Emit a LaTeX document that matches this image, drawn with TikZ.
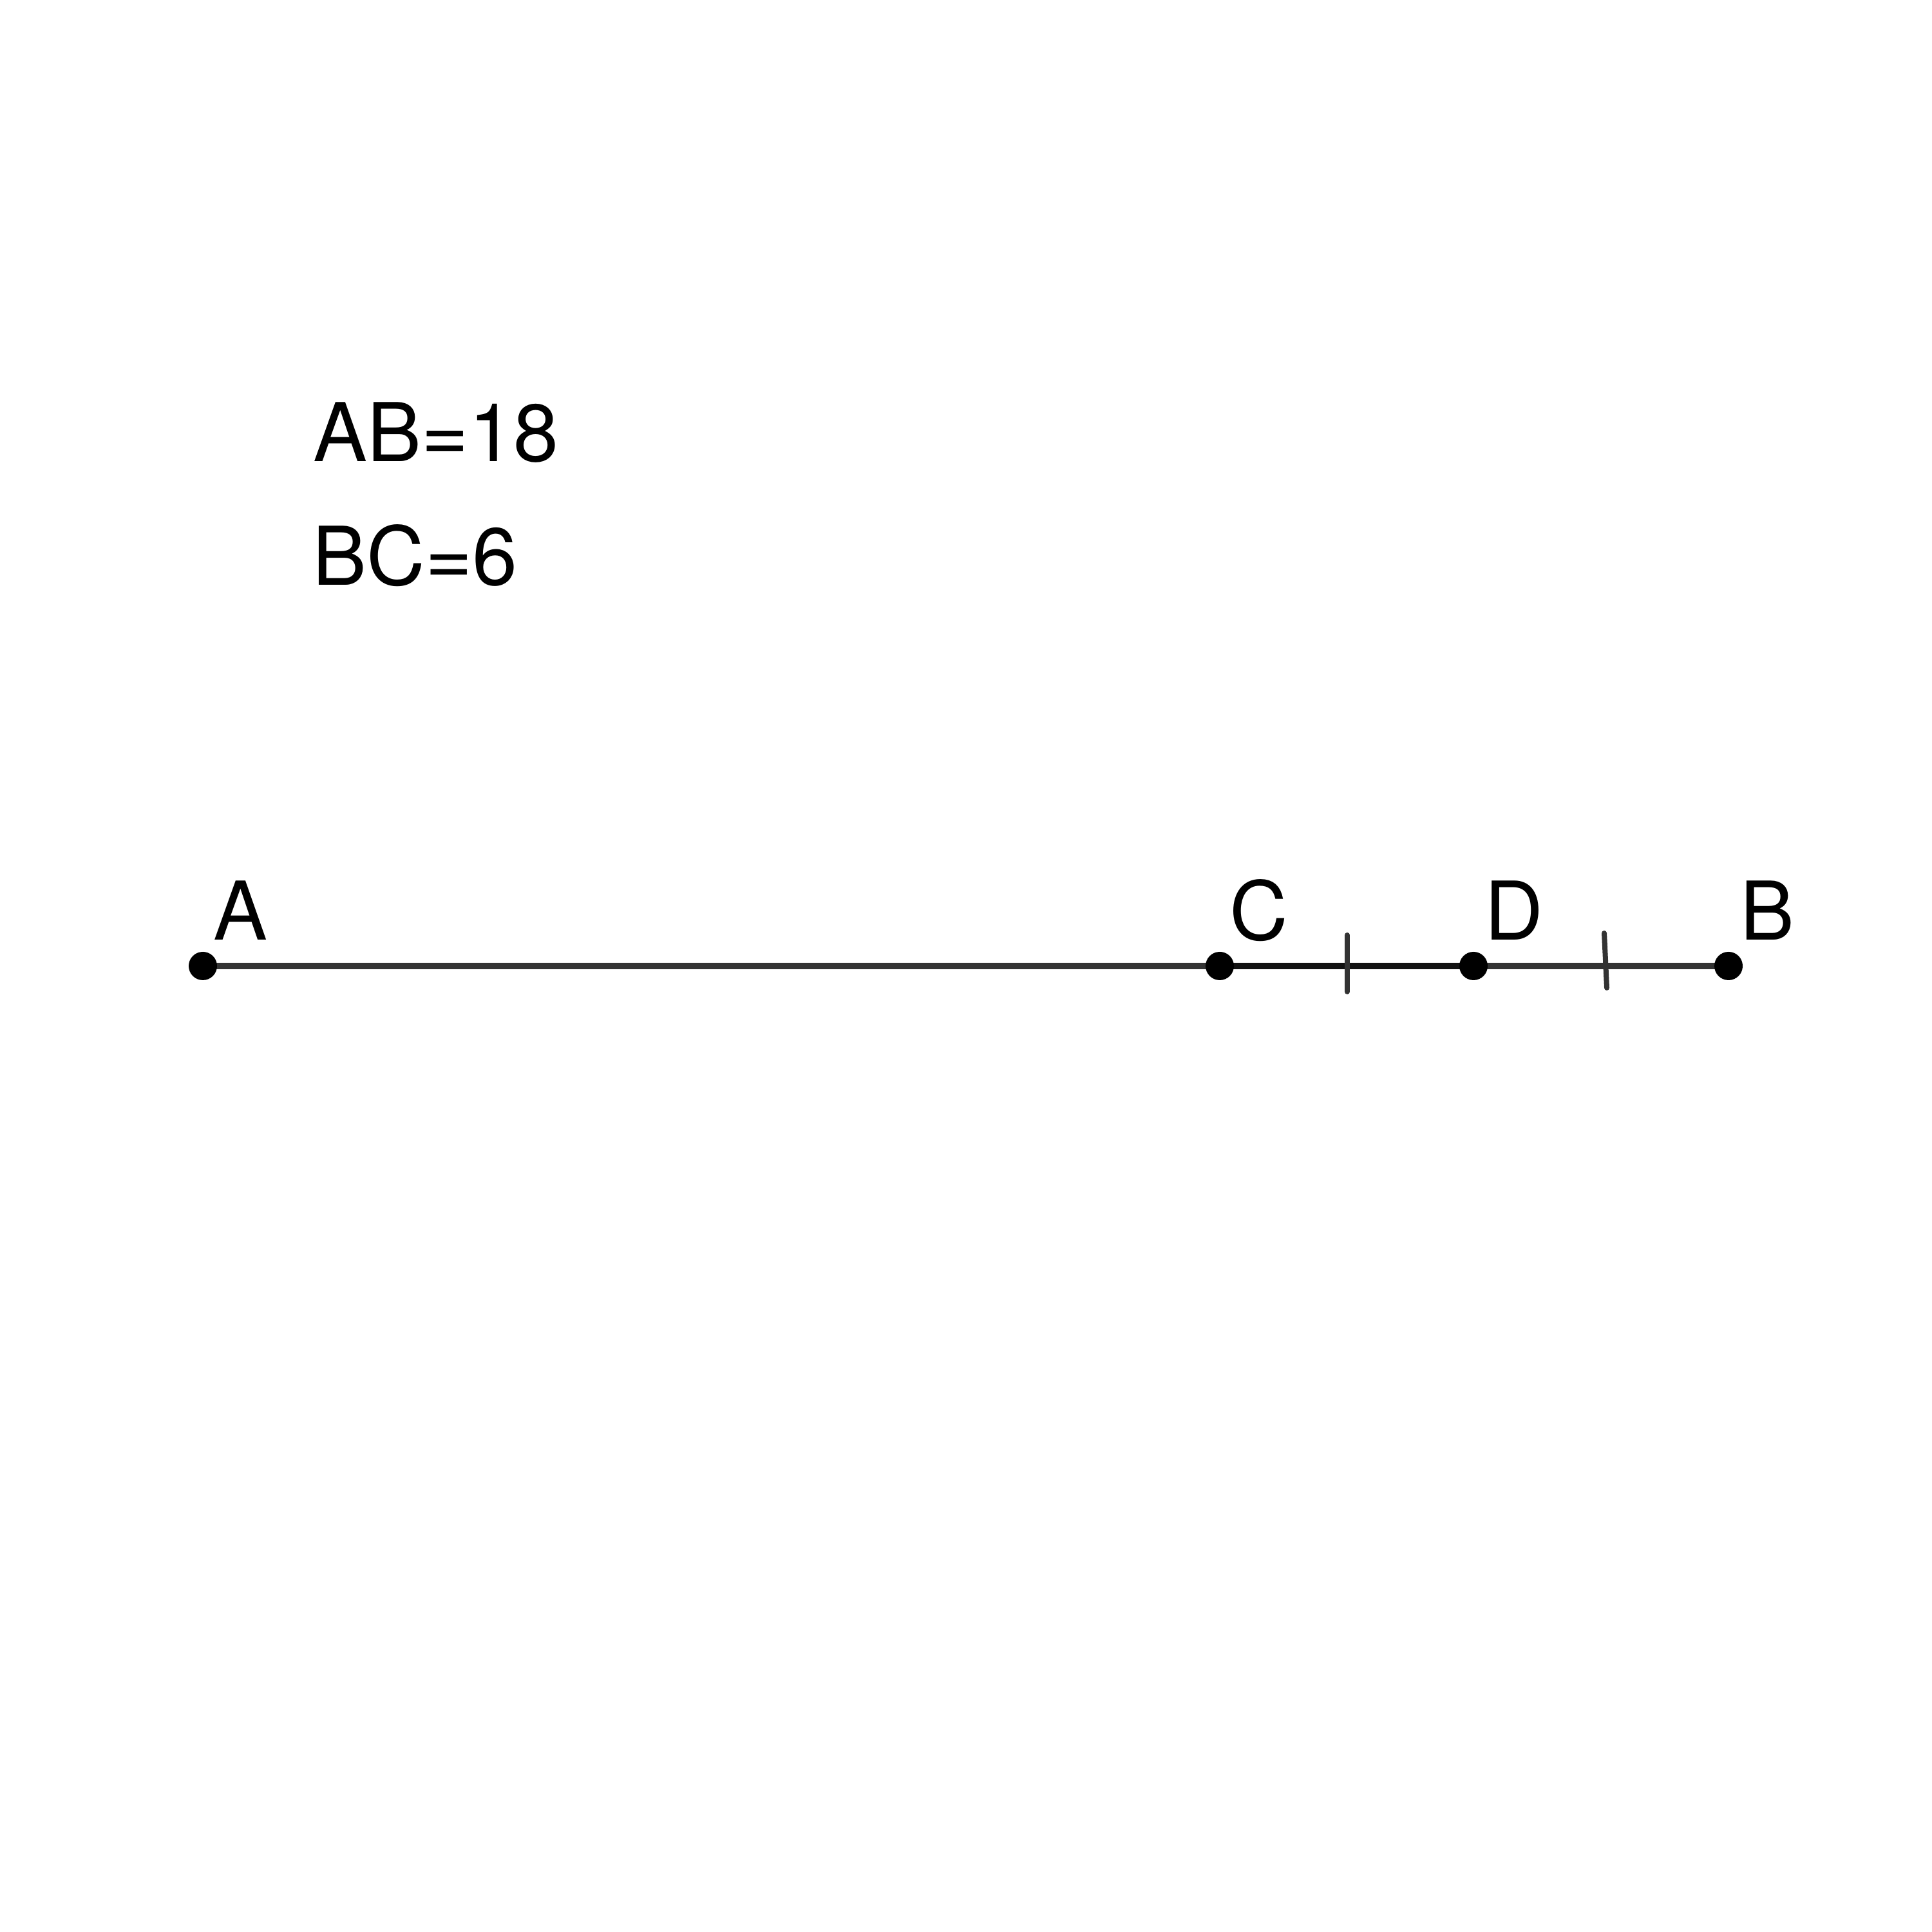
\documentclass[tikz,border=0pt]{standalone}
\usepackage{fontspec}
\setmainfont{TeX Gyre Heros}
\begin{document}
\begin{tikzpicture}[x=1cm,y=1cm,
  seg/.style={line width=0.1cm, draw=black!80},
  segdark/.style={line width=0.1cm, draw=black!93},
  tick/.style={line width=0.08cm, draw=black!80, line cap=round},
  pt/.style={circle, fill=black, inner sep=0pt, minimum size=0.44cm},
  lbl/.style={inner sep=0pt, anchor=base west, font=\fontsize{35.8}{43}\selectfont}]
\useasboundingbox (0,0) rectangle (30,30);
\fill[white] (0,0) rectangle (30,30);
% points
\coordinate (A) at (3.15,15);
\coordinate (C) at (18.94,15);
\coordinate (D) at (22.88,15);
\coordinate (B) at (26.84,15);
% segments
\draw[seg] (A) -- (C);
\draw[segdark] (C) -- (D);
\draw[seg] (D) -- (B);
% tick marks
\coordinate (t1a) at (20.92,15.48);
\coordinate (t1b) at (20.92,14.60);
\coordinate (t2a) at (24.91,15.51);
\coordinate (t2b) at (24.95,14.66);
\draw[tick] (t1a) -- (t1b);
\draw[tick] (t2a) -- (t2b);
% dots
\node[pt] (dA) at (A) {};
\node[pt] (dC) at (C) {};
\node[pt] (dD) at (D) {};
\node[pt] (dB) at (B) {};
% labels
\node[lbl] (lA) at (3.31,15.40) {A};
\node[lbl] (lC) at (19.09,15.40) {C};
\node[lbl] (lD) at (23.05,15.40) {D};
\node[lbl] (lB) at (27.02,15.40) {B};
% given data
\node[lbl] (t1) at (4.86,22.83) {AB=18};
\node[lbl] (t2) at (4.85,20.91) {BC=6};
\end{tikzpicture}
\end{document}
